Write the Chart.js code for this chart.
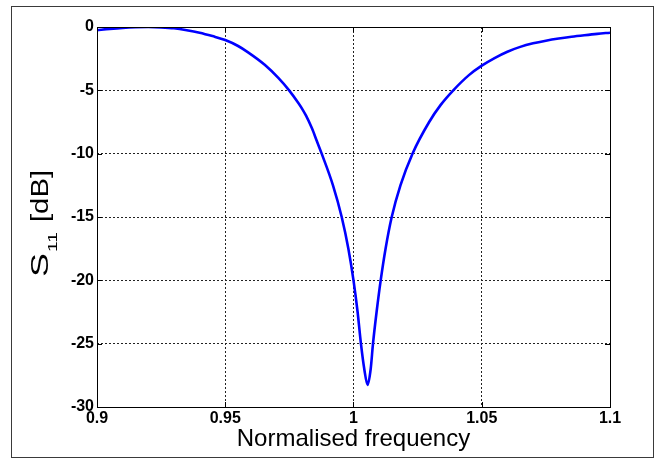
<!DOCTYPE html>
<html>
<head>
<meta charset="utf-8">
<script src="https://cdn.jsdelivr.net/npm/chart.js@4/dist/chart.umd.min.js"></script>
<style>
html,body{margin:0;padding:0;background:#fff;}
#wrap{width:656px;height:459px;position:relative;}
</style>
</head>
<body>
<div id="wrap"><canvas id="c" width="656" height="459"></canvas></div>
<script>
// ---- data ----
const freq = [0.900,0.905,0.910,0.915,0.920,0.925,0.930,0.935,0.940,0.945,0.950,0.955,0.9589,0.9655,0.9706,0.9749,0.9785,0.9801,0.9815,0.9838,0.9857,0.9876,0.9920,0.9954,0.9980,1.0000,1.0016,1.0029,1.0042,1.0055,1.0067,1.0076,1.0090,1.0106,1.0125,1.0149,1.0183,1.0230,1.0295,1.0340,1.0389,1.045,1.050,1.055,1.060,1.065,1.070,1.075,1.080,1.085,1.090,1.095,1.100];
const s11dB = [-0.25,-0.15,-0.07,-0.02,0,-0.03,-0.10,-0.25,-0.45,-0.72,-1.03,-1.5,-2.0,-3.0,-4.0,-5.0,-6.0,-6.5,-7.0,-8.0,-9.0,-10.0,-12.5,-15,-17.5,-20,-22.5,-25,-27,-28.25,-27,-25,-22.5,-20,-17.5,-15,-12.5,-10,-7.5,-6.15,-5,-3.8,-3.05,-2.45,-1.95,-1.57,-1.29,-1.08,-0.91,-0.77,-0.65,-0.54,-0.45];
const xTickLabels = ['0.9','0.95','1','1.05','1.1'];
const yTickLabels = ['-30','-25','-20','-15','-10','-5','0'];
const xTitle = 'Normalised frequency';
const yTitleMain = 'S';
const yTitleSub = '11';
const yTitleUnit = '[dB]';

const FONT = '"Liberation Sans", Arial, Helvetica, sans-serif';

const deco = {
  id: 'deco',
  beforeDraw(chart) {
    const ctx = chart.ctx;
    ctx.save();
    ctx.fillStyle = '#fff';
    ctx.fillRect(0, 0, chart.width, chart.height);
    ctx.restore();
  },
  afterDraw(chart) {
    const {ctx, chartArea: a, scales: {x, y}} = chart;
    ctx.save();
    // outer figure frame
    ctx.strokeStyle = '#3a3a3a';
    ctx.lineWidth = 1;
    ctx.strokeRect(11.5, 6.5, 642, 451);
    // axes box
    ctx.strokeStyle = '#000';
    ctx.strokeRect(a.left + 0.5, a.top + 0.5, a.right - a.left, a.bottom - a.top);
    // inward tick marks
    ctx.beginPath();
    y.ticks.forEach(t => {
      const py = Math.round(y.getPixelForValue(t.value)) + 0.5;
      ctx.moveTo(a.left, py); ctx.lineTo(a.left + 5, py);
      ctx.moveTo(a.right, py); ctx.lineTo(a.right - 5, py);
    });
    x.ticks.forEach(t => {
      const px = Math.round(x.getPixelForValue(t.value)) + 0.5;
      ctx.moveTo(px, a.bottom); ctx.lineTo(px, a.bottom - 5);
      ctx.moveTo(px, a.top); ctx.lineTo(px, a.top + 5);
    });
    ctx.stroke();
    // y axis title with subscript
    ctx.translate(48, 277);
    ctx.rotate(-Math.PI / 2);
    ctx.fillStyle = '#000';
    ctx.textAlign = 'left';
    ctx.textBaseline = 'alphabetic';
    const piece = (txt, font, start, len, dy) => {
      ctx.font = font;
      const w = ctx.measureText(txt).width;
      ctx.save();
      ctx.translate(start, dy);
      ctx.scale(len / w, 1);
      ctx.fillText(txt, 0, 0);
      ctx.restore();
    };
    piece(yTitleMain, '23px ' + FONT, 0, 24, 0);
    piece(yTitleSub, '13px ' + FONT, 25, 20, 9);
    piece(yTitleUnit, '23px ' + FONT, 55, 52, 0);
    ctx.restore();
  }
};

new Chart(document.getElementById('c'), {
  type: 'line',
  data: {
    datasets: [{
      data: freq.map((f, i) => ({x: f, y: s11dB[i]})),
      borderColor: '#0000ff',
      borderWidth: 2.6,
      pointRadius: 0,
      cubicInterpolationMode: 'monotone',
      fill: false
    }]
  },
  options: {
    responsive: false,
    animation: false,
    devicePixelRatio: 1,
    layout: {padding: {left: 0, top: 27, right: 46, bottom: 5}},
    plugins: {legend: {display: false}, tooltip: {enabled: false}},
    scales: {
      x: {
        type: 'linear',
        min: 0.9, max: 1.1,
        afterBuildTicks: s => { s.ticks = xTickLabels.map(v => ({value: parseFloat(v)})); },
        afterFit: s => { s.height = 47; },
        ticks: {
          padding: 2,
          color: '#000',
          maxRotation: 0,
          autoSkip: false,
          font: {family: FONT, size: 16, weight: 'bold'},
          callback: (v, i) => xTickLabels[i]
        },
        grid: {color: '#222', lineWidth: 1, drawTicks: false},
        border: {display: false, dash: [2, 2]},
        title: {
          display: true,
          text: xTitle,
          color: '#000',
          padding: {top: 0, bottom: 0},
          font: {family: FONT, size: 24, weight: 'normal'}
        }
      },
      y: {
        type: 'linear',
        min: -30, max: 0,
        afterBuildTicks: s => { s.ticks = yTickLabels.map(v => ({value: parseFloat(v)})); },
        afterFit: s => { s.width = 97; },
        ticks: {
          padding: 3,
          color: '#000',
          autoSkip: false,
          font: {family: FONT, size: 16, weight: 'bold'},
          callback: (v, i) => yTickLabels[i]
        },
        grid: {color: '#222', lineWidth: 1, drawTicks: false},
        border: {display: false, dash: [2, 2]}
      }
    }
  },
  plugins: [deco]
});
</script>
</body>
</html>
